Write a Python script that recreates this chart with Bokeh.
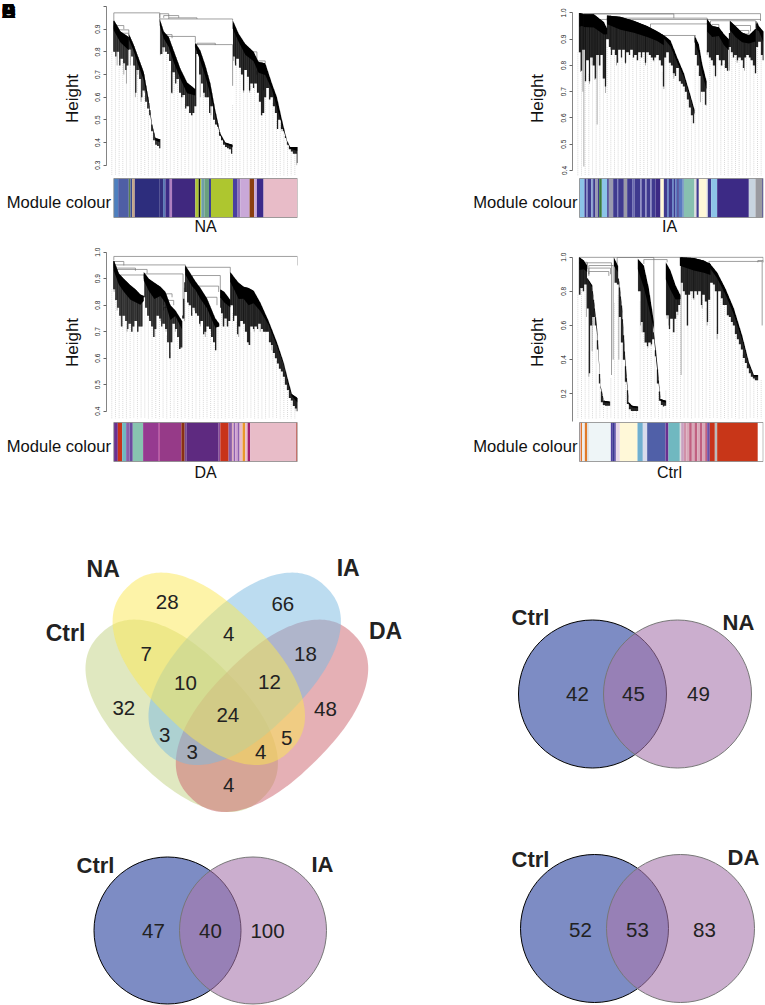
from bokeh.plotting import figure
from bokeh.models import Range1d, LinearAxis, FixedTicker
from bokeh.layouts import column, row
from bokeh.embed import file_html
from bokeh.resources import INLINE
from bokeh.core.properties import value
import numpy as np

FONT = "Liberation Sans"
nan = float("nan")

# ---------------------------- dendrogram data: leaf position, merge height ---------------------------
NA_branch_x = [[340,360,385],[385,400,415,430,445,455,465,478],[478,490,505,520,540,560,585],
               [585,600,615,630,645,660,675,697],[697,715,735,760,775,795,815,830,845,860,870,892]]
NA_branch_top = [[.94,.89,.865],[.88,.83,.77,.71,.585,.48,.42,.415],[.945,.89,.865,.805,.725,.665,.635],
                 [.84,.805,.74,.66,.54,.44,.40,.39],[.94,.88,.835,.80,.755,.75,.66,.60,.50,.41,.38,.38]]
NA_branch_low = [[.81,.75,.70],[.81,.75,.67,.61,.53,.44,.39,.375],[.865,.80,.74,.66,.60,.53,.555],
                 [.785,.675,.60,.525,.48,.41,.38,.36],[.835,.78,.70,.68,.62,.60,.585,.47,.44,.395,.36,.33]]
NA_hair_low = [.80,.78,.80,.74,.77,.75,.72,.74,
               .81,.78,.74,.62,.72,.68,.60,.63,.58,.55,.52,.45,.41,.39,.385,.375,
               .79,.82,.80,.79,.76,.62,.71,.66,.68,.62,.60,.61,.55,.56,.53,.52,.53,.56,
               .79,.70,.66,.62,.60,.60,.53,.56,.50,.48,.47,.43,.41,.39,.38,.375,.37,.35,
               .78,.74,.77,.73,.70,.63,.72,.69,.63,.66,.64,.66,.62,.58,.52,.53,.60,.64,.59,.60,.56,.53,.46,.50,.46,.45,.42,.39,.37,.36,.35,.35,.31]
NA_spike_x = [343,350,358,370,378,390,405,412,422,432,480,490,515,525,548,575,600,612,632,650,700,705,730,748,772,785,810,832,845,890]
NA_spike_low = [.80,.74,.77,.70,.66,.74,.60,.70,.58,.62,.785,.80,.615,.70,.60,.52,.60,.60,.52,.48,.76,.75,.62,.62,.62,.52,.59,.46,.45,.30]
NA_merge_l = [340,478,490,505,478,497,495,585,590,340,355,360,750,775,770]
NA_merge_r = [478,505,535,590,697,585,515,697,645,370,385,385,770,795,790]
NA_merge_h = [.972,.968,.96,.95,.945,.868,.876,.832,.838,.916,.897,.882,.80,.76,.717]
NA_merge_ll = [.94,.95,.95,.945,.93,.86,.87,.82,.83,.90,.88,.87,.79,.75,.70]
NA_merge_lr = [.945,.95,.95,.945,.94,.84,.86,.65,.83,.90,.88,.87,.76,.75,.63]

IA_branch_x = [[417,423,430],[430,460,490,500],[500,540,580,620,650,670],[670,690,710,730,750,762],
               [762,775,785,798],[800,815,835,850,865],[868,885,905,925,945],[948,955,968]]
IA_branch_top = [[1.0,.998,.995],[.995,.995,.965,.94],[.99,.985,.97,.95,.93,.915],[.915,.895,.83,.77,.685,.63],
                 [.915,.88,.805,.74],[.977,.95,.945,.92,.90],[.97,.95,.925,.915,.94],[.97,.95,.93]]
IA_branch_low = [[.85,.86,.86],[.855,.85,.83,.88],[.895,.845,.84,.83,.825,.805],[.88,.83,.78,.73,.655,.58],
                 [.84,.78,.705,.65],[.84,.83,.85,.80,.78],[.87,.83,.82,.825,.80],[.87,.895,.82]]
IA_hair_low = [.85,.78,.86,.74,.82,.74,.83,.80,.75,.84,.80,.84,.75,.72,.90,.87,.84,.86,.84,.81,.86,.83,.86,.81,.85,.84,.86,.83,.84,.82,
               .85,.83,.85,.81,.85,.84,.83,.82,.83,.84,.82,.80,.72,.83,.85,.81,.80,.77,.76,.79,.74,.73,.72,.70,.67,.64,.61,.58,
               .84,.80,.76,.70,.70,.65,.85,.83,.82,.80,.76,.84,.82,.80,.82,.79,.78,.87,.85,.83,.84,.82,.83,.82,.79,.83,.84,.83,.82,.80,.77,.87,.89,.84,.82]
IA_spike_x = [418,420,427,430,435,447,455,463,470,480,488,495,510,528,555,590,615,640,670,700,735,780,797,800,825,845,862,867,890,912,930,945,967]
IA_spike_low = [.85,.775,.70,.415,.74,.73,.80,.745,.575,.80,.75,.695,.86,.80,.805,.82,.80,.815,.71,.75,.70,.66,.647,.84,.755,.80,.78,.78,.81,.78,.82,.77,.82]
IA_merge_l = [417,430,500,480,630,670,810,870,815,900,905]
IA_merge_r = [960,700,800,960,800,765,945,930,835,925,925]
IA_merge_h = [.997,.996,.98,.975,.958,.914,.97,.952,.956,.933,.92]
IA_merge_ll = [.99,.99,.97,.96,.94,.91,.96,.94,.95,.92,.91]
IA_merge_lr = [.97,.98,.975,.97,.96,.91,.94,.93,.94,.92,.91]

DA_branch_x = [[340,355,370,390,405,420,430],[430,445,462,480,495,510,525,545],[555,575,585,600,620,645,657],
               [660,672,690],[690,705,715,730,745,760,780,805,830,850,865,875,892]]
DA_branch_top = [[.97,.92,.90,.875,.86,.84,.835],[.925,.90,.885,.87,.85,.80,.78,.74],[.95,.91,.89,.865,.825,.75,.73],
                 [.86,.85,.82],[.925,.90,.885,.87,.865,.855,.81,.74,.66,.585,.51,.465,.45]]
DA_branch_low = [[.855,.80,.76,.72,.72,.73,.78],[.835,.77,.71,.77,.73,.64,.72,.65],[.85,.80,.80,.75,.72,.65,.70],
                 [.775,.735,.74],[.82,.76,.71,.74,.68,.72,.72,.70,.62,.56,.47,.44,.40]]
DA_hair_low = [.86,.82,.79,.76,.72,.76,.74,.71,.73,.70,.72,.74,.70,.72,.72,.83,.79,.76,.74,.72,.68,.71,.76,.75,.72,.73,.71,.66,.60,.66,.73,.71,.68,.635,.64,
               .75,.85,.81,.80,.76,.79,.77,.76,.73,.74,.69,.70,.72,.71,.68,.66,.63,.72,.79,.77,.72,.75,.72,.74,.80,.74,.76,.69,.72,.74,.73,.70,.66,.65,.72,.71,.72,.71,.73,.71,.70,.70,.70,
               .66,.65,.62,.60,.58,.56,.55,.53,.50,.48,.45,.44,.42,.41,.40]
DA_spike_x = [341,350,362,380,395,412,425,447,463,480,497,510,525,540,552,565,582,600,615,632,646,668,680,700,715,730,745,762,780,800,815,888]
DA_spike_low = [.85,.78,.72,.70,.70,.70,.72,.75,.68,.74,.70,.60,.70,.635,.74,.80,.78,.72,.68,.70,.63,.72,.72,.75,.68,.73,.65,.70,.70,.70,.63,.40]
DA_merge_l = [340,340,340,345,345,555,360,430,575,595,610,470,490,490]
DA_merge_r = [892,370,555,405,440,690,430,548,660,655,650,515,520,510]
DA_merge_h = [.984,.965,.952,.94,.935,.943,.914,.918,.912,.872,.83,.843,.818,.792]
DA_merge_ll = [.97,.95,.94,.93,.92,.93,.90,.91,.90,.86,.82,.83,.80,.78]
DA_merge_lr = [.95,.95,.945,.93,.92,.92,.90,.75,.86,.85,.80,.83,.80,.78]

CT_branch_x = [[417,430,440],[440,455,470,480,490,507],[520,532],[535,545,555,565,575,592],[592,610,625,640],
               [640,650,660,676],[676,690,705,720],[718,760,790,810],[805,830,855,880,905,925,940,952]]
CT_branch_top = [[1.0,.98,.95],[.88,.835,.58,.25,.16,.155],[1.0,.95],[.875,.70,.385,.15,.13,.125],[.99,.95,.815,.62],
                 [.56,.385,.17,.16],[.97,.92,.835,.775],[1.0,.995,.98,.96],[.97,.91,.815,.70,.54,.385,.31,.31]]
CT_branch_low = [[.785,.835,.845],[.86,.80,.46,.21,.135,.13],[.855,.845],[.83,.62,.25,.11,.10,.10],[.815,.58,.50,.50],
                 [.48,.25,.135,.125],[.68,.60,.60,.715],[.855,.785,.775,.775],[.90,.815,.72,.60,.47,.34,.285,.28]]
CT_hair_low = [.78,.82,.80,.84,.70,.32,.60,.65,.60,.46,.26,.15,.135,.13,.13,.13,nan,nan,
               .85,.84,.65,.50,.40,.27,.14,.11,.10,.10,.10,.10,
               .80,.62,.56,.50,.48,.50,.49,.52,.42,.26,.16,.135,.125,.13,
               .66,.58,.64,.56,.64,.68,.72,.85,.80,.78,.60,.78,.80,.76,.80,.78,.80,.72,.78,.74,.62,.75,
               .85,.84,.80,.55,.80,.76,.72,.72,.66,.65,.62,.60,.55,.52,.49,.46,.41,.38,.35,.32,.30,.29,.28,.28,nan,nan,nan]
CT_spike_x = [420,428,438,445,450,455,460,522,535,600,605,612,622,632,680,685,702,712,722,740,760,785,800,830,848]
CT_spike_low = [.78,.80,.65,.30,.66,.45,.60,.85,.40,.60,.56,.50,.47,.48,.64,.60,.56,.66,.31,.60,.75,.70,.60,.52,.72]
CT_merge_l = [417,417,440,445,445,445,530,610,805,952]
CT_merge_r = [968,440,513,518,510,505,640,680,965,968]
CT_merge_h = [.999,.97,.967,.951,.936,.916,.998,.986,.975,.98]
CT_merge_ll = [.99,.96,.93,.90,.90,.89,.95,.96,.96,.97]
CT_merge_lr = [.97,.95,.31,.40,.90,.89,.56,.97,.60,.97]

# ---------------------------- module colour bars -------------------------------------
NA_bar_edges = [340,353,385,390,395,403,478,488,495,508,515,585,595,599,603,612,626,632,698,712,720,748,762,770,790,892]
NA_bar_colors = ["#4d7fbf","#4f5ea5","#5b8050","#3a4a8f","#c4a58a","#2d2d7d","#34307e","#5a78b5","#3c2a85","#b07fc0","#40287f",
                 "#aec536","#101010","#aec536","#6f9fa8","#6aa07f","#3a3f9a","#aec62f","#4a3fa0","#9070b8","#c9a8d8","#8a3f10",
                 "#c9a8d8","#3c2a8a","#e8bcc8"]
IA_bar_edges = [417,432,437,442,452,458,465,472,476,484,500,505,518,530,533,550,560,575,582,600,603,615,618,630,633,645,660,670,680,685,
                695,700,705,710,715,725,730,762,768,775,798,802,812,830,925,945,965,968]
IA_bar_colors = ["#8cc4e8","#3f3a8f","#7b82c0","#3f3a8f","#8aa0d0","#3f3a8f","#9a9ab0","#3f3a8f","#3a7a3a","#8cc4e8","#3f3a8f","#9a9ab0",
                 "#3f3a8f","#7070b8","#3f3a8f","#9a9aa8","#3f3a8f","#6a6ab0","#3f3a8f","#8a8ac8","#3f3a8f","#8a8ac8","#3f3a8f","#8a8ac8",
                 "#3f3a8f","#3c2a85","#fff8d8","#3f3a8f","#5a7ac0","#3f3a8f","#5a7ac0","#3f3a8f","#5a7ac0","#3f3a8f","#5a7ac0","#6a8ac0",
                 "#88c0b0","#dddddd","#3f3a8f","#fff8d8","#dddddd","#3f3a8f","#8cc4e8","#3c2a85","#c8d4e0","#9a9aa0","#3f3a8f"]
DA_bar_edges = [340,352,365,377,387,397,428,475,478,543,553,558,655,660,685,695,700,705,712,718,727,735,742,750,888,892]
DA_bar_colors = ["#6a2f90","#c8331a","#70b8c0","#8a5fa8","#6a4aa0","#88c4b0","#963a90","#b83090","#963a88","#8a3010","#7a4a90","#5e2a80",
                 "#8a4a9a","#c8331a","#8a5fa8","#e0b0c0","#9060b0","#d0a0d0","#9060b0","#e8bcc8","#e8962a","#e8bcc8","#a01f70","#e8bcc8","#b85a50"]
CT_bar_edges = [417,421,425,433,440,445,511,517,521,526,538,591,607,620,675,684,718,722,730,738,746,754,762,770,778,786,794,800,808,823,830,952,968]
CT_bar_colors = ["#e8bcc8","#e07a2a","#eeeeee","#e07a2a","#dddddd","#eef5f7","#5040a0","#3a3a90","#5040a0","#e8d8e8","#fff8d8","#70b0d0",
                 "#d8dcec","#5060a8","#6a2f90","#70b8c0","#dddddd","#c8a0c0","#d090a8","#d8a8b8","#c06080","#d8a8b8","#c06080","#d8a8b8",
                 "#c06080","#d8a8b8","#c06080","#6a50a8","#c8331a","#bbbbbb","#c83618","#ffffff"]

# ---------------------------- venn data ------------------------------------------------
SET_NAMES = ["Ctrl","NA","IA","DA"]
FOUR_COUNTS = [28,66,7,4,18,10,12,32,48,24,3,5,3,4,4]
CTRL_NA = [42,45,49]
CTRL_IA = [47,40,100]
CTRL_DA = [52,53,83]
PANEL_LETTERS = ["A","B","C","D","E"]


def dendro(spec):
    (fw, px_left, px_right, x0, x1, y_off, fh, vref, slope, bar_top, bar_bot, ticks, bound, guide_bot) = spec["layout"]
    xs, tops, lows = spec["x"], spec["top"], spec["low"]
    h_at = lambda py: vref[0] + (vref[1] - py) / slope
    yr = Range1d(h_at(fh + y_off), h_at(y_off))
    p = figure(width=fw, height=fh, x_range=Range1d(x0, x1), y_range=yr, output_backend="svg", toolbar_location=None,
               x_axis_location=None, y_axis_location=None, min_border_left=px_left, min_border_right=px_right,
               min_border_top=0, min_border_bottom=0, outline_line_color=None, background_fill_color="white")
    p.grid.visible = False
    bar_h = 1.0 / (bar_bot - bar_top)
    p.extra_y_ranges["bar"] = Range1d((bar_bot - (fh + y_off)) * bar_h, 1 + (bar_top - y_off) * bar_h)

    ax = LinearAxis(ticker=FixedTicker(ticks=ticks), bounds=bound)
    ax.major_label_overrides = {t: (f"{t:.1f}") for t in ticks}
    if spec.get("hide_top"):
        ax.major_label_overrides[1.0] = ""
    ax.major_label_orientation = "vertical"
    ax.major_label_text_font = FONT
    ax.major_label_text_font_size = "6.5px"
    ax.major_label_text_color = "#222222"
    ax.major_label_standoff = 3
    ax.major_tick_out = 3
    ax.major_tick_in = 0
    ax.minor_tick_line_color = None
    ax.axis_line_color = "#666666"
    ax.major_tick_line_color = "#666666"
    ax.axis_line_width = 0.8
    p.add_layout(ax, "left")

    ax_x = np.concatenate([np.array(a, float) for a in xs])
    ax_t = np.concatenate([np.array(a, float) for a in tops])
    # envelope just beside a leaf, so a hair on a branch boundary stays on the lower branch
    top_at = lambda q: np.minimum(np.interp(q - 1, ax_x, ax_t), np.interp(q + 1, ax_x, ax_t))

    hair = np.array(spec["hair"], float)
    hair_x = spec["edges"][0] + 6.0 * np.arange(len(hair))
    keep = ~np.isnan(hair)
    hair_x, hair = hair_x[keep], hair[keep]

    gx = np.arange(x0 + 16, x1, 11.0)
    gt = np.interp(gx, hair_x, hair)
    p.segment(gx, gt, gx, [h_at(guide_bot)] * len(gx), line_color="#c8c8c8", line_width=0.7, line_dash="1 1")

    ml, mr, mh, mll, mlr = spec["merge"]
    p.segment(ml, mh, mr, mh, line_color="#777777", line_width=0.7)
    p.segment(ml, mh, ml, mll, line_color="#777777", line_width=0.7)
    p.segment(mr, mh, mr, mlr, line_color="#777777", line_width=0.7)

    sx = np.array(spec["spike_x"], float)
    p.segment(sx, top_at(sx), sx, spec["spike_low"], line_color="#444444", line_width=0.7, line_alpha=0.6)

    # hairs only run downward from the tree's upper edge
    ht = top_at(hair_x)
    ok = hair < ht
    p.segment(hair_x[ok], ht[ok], hair_x[ok], hair[ok], line_color="#000000", line_width=1.3, line_alpha=0.85)
    mid_x = hair_x + 3
    mid_low = np.maximum(hair, np.roll(hair, -1))
    mt = top_at(mid_x)
    ok = mid_low < mt
    p.segment(mid_x[ok], mt[ok], mid_x[ok], mid_low[ok], line_color="#000000", line_width=1.1, line_alpha=0.8)

    for a, b, c in zip(xs, tops, lows):
        b_, c_ = np.array(b), np.array(c)
        p.varea(a, b_, b_ * 0.65 + c_ * 0.35, fill_color="#000000", fill_alpha=1.0)

    e = spec["edges"]
    p.quad(left=e[:-1], right=e[1:], bottom=0, top=1, fill_color=spec["colors"], line_color=None, y_range_name="bar")
    p.quad(left=e[0], right=e[-1], bottom=0, top=1, fill_color=None, line_color="#888888", line_width=0.8, y_range_name="bar")
    return p


panel_NA = dict(x=NA_branch_x, top=NA_branch_top, low=NA_branch_low, hair=NA_hair_low, spike_x=NA_spike_x, spike_low=NA_spike_low,
                merge=(NA_merge_l, NA_merge_r, NA_merge_h, NA_merge_ll, NA_merge_lr), edges=NA_bar_edges, colors=NA_bar_colors, hide_top=True,
                layout=(382, 106, 85, 318, 892, 0, 245, (.3, 164.7), 226.7, 178, 217, [.3,.4,.5,.6,.7,.8,.9,1.0], (.3, 1.0), 175))
panel_IA = dict(x=IA_branch_x, top=IA_branch_top, low=IA_branch_low, hair=IA_hair_low, spike_x=IA_spike_x, spike_low=IA_spike_low,
                merge=(IA_merge_l, IA_merge_r, IA_merge_h, IA_merge_ll, IA_merge_lr), edges=IA_bar_edges, colors=IA_bar_colors,
                layout=(383, 190, 2, 396, 969, 0, 245, (.4, 170), 262.7, 178, 217, [.4,.5,.6,.7,.8,.9,1.0], (.4, 1.0), 175))
panel_DA = dict(x=DA_branch_x, top=DA_branch_top, low=DA_branch_low, hair=DA_hair_low, spike_x=DA_spike_x, spike_low=DA_spike_low,
                merge=(DA_merge_l, DA_merge_r, DA_merge_h, DA_merge_ll, DA_merge_lr), edges=DA_bar_edges, colors=DA_bar_colors,
                layout=(382, 106, 85, 318, 892, 245, 245, (.4, 410.7), 265.0, 422, 461, [.4,.5,.6,.7,.8,.9,1.0], (.4, 1.0), 418))
panel_CT = dict(x=CT_branch_x, top=CT_branch_top, low=CT_branch_low, hair=CT_hair_low, spike_x=CT_spike_x, spike_low=CT_spike_low,
                merge=(CT_merge_l, CT_merge_r, CT_merge_h, CT_merge_ll, CT_merge_lr), edges=CT_bar_edges, colors=CT_bar_colors,
                layout=(383, 190, 2, 396, 969, 245, 245, (.2, 393.3), 170.8, 422, 461, [.2,.4,.6,.8,1.0], (.04, 1.0), 418))

figs = [dendro(s) for s in (panel_NA, panel_IA, panel_DA, panel_CT)]

# ---------------------------- overlay: venns and all free texts ---------------------------------------------
PAGE_W, PAGE_H = 765, 1005
v = figure(width=PAGE_W, height=PAGE_H, x_range=Range1d(0, PAGE_W), y_range=Range1d(0, PAGE_H), output_backend="svg",
           toolbar_location=None, x_axis_location=None, y_axis_location=None, min_border=0, outline_line_color=None,
           background_fill_color=None, border_fill_color=None, styles={"position": "absolute", "left": "0px", "top": "0px"})
v.grid.visible = False
Y = lambda py: PAGE_H - py

def put(xs, pys, vals, size, bold=False, color="#222222", align="center", angle=0.0):
    v.text(x=xs, y=[Y(q) for q in pys], text=vals, text_font=value(FONT), text_font_size=size,
           text_font_style="bold" if bold else "normal", text_align=align, text_baseline="middle",
           text_color=color, angle=angle)

# dendrogram panel texts
put([72, 537, 72, 537], [98, 98, 342, 342], ["Height"] * 4, "17px", color="#111111", angle=np.pi / 2)
put([110.5, 577, 110.5, 577], [202, 202, 446, 446], ["Module colour"] * 4, "16.6px", color="#111111", align="right")
put([205, 669, 205, 669], [226, 226, 471.5, 471.5], ["NA", "IA", "DA", "Ctrl"], "16px", color="#111111")
put([1] * 5, [10] * 5, PANEL_LETTERS, "20px", bold=True, color="#000000", align="left")

# four-set rounded lobes: a superellipse turned by 45 degrees
def lobe(cx, cy, sign, a=114.0, b=62.0, n=2.3, half_box=96.2):
    t = np.linspace(0, 2 * np.pi, 181)
    u = a * np.sign(np.cos(t)) * np.abs(np.cos(t)) ** (2 / n)
    w = b * np.sign(np.sin(t)) * np.abs(np.sin(t)) ** (2 / n)
    dx = (u + sign * w) / np.sqrt(2)
    dy = (sign * u - w) / np.sqrt(2)
    k = half_box / dx.max()
    return cx + k * dx, cy + k * dy

ell_x = [181.2, 271.5, 244.2, 208.3]
ell_y = [715.3, 715.3, 668.3, 668.3]
ell_sign = [1, -1, -1, 1]
ell_col = ["#c1d181", "#cb616b", "#79b9e1", "#fbe751"]
for x_, y_, s_, c_ in zip(ell_x, ell_y, ell_sign, ell_col):
    lx, ly = lobe(x_, y_, s_)
    v.patch(lx, [Y(q) for q in ly], fill_color=c_, fill_alpha=0.5, line_color=None)

four_x = [166.7,282.3,145.7,228.3,305,185,269,123.3,325,227.3,164.3,286.3,191.7,260.3,228.3]
four_py = [601.7,603.3,653.3,633.3,653.3,682.7,681.7,707.3,708.3,714,734,737.3,751.7,751.7,784.3]
put(four_x, four_py, [str(n) for n in FOUR_COUNTS], "20.5px")
put([65, 102.7, 347.7, 385], [632.7, 568, 567.7, 630], SET_NAMES, "23px", bold=True)

def pair(cx1, cx2, cy, r, counts, num_x, num_y, lab_xy, other):
    v.circle(x=[cx1], y=[Y(cy)], radius=r, fill_color="#3f55a8", fill_alpha=0.68, line_color="#000000", line_width=1)
    v.circle(x=[cx2], y=[Y(cy)], radius=r, fill_color="#a878ae", fill_alpha=0.6, line_color="#777777", line_width=1)
    put(num_x, [num_y] * 3, [str(n) for n in counts], "20.5px")
    put([lab_xy[0], lab_xy[2]], [lab_xy[1], lab_xy[3]], ["Ctrl", other], "22px", bold=True)

pair(592, 677, 693.5, 74, CTRL_NA, [577, 633, 698], 693, (530, 617, 738, 622), "NA")
pair(167, 252.5, 930, 73.5, CTRL_IA, [153, 210, 267], 930, (95, 865, 322, 864), "IA")
pair(594, 680, 928, 74, CTRL_DA, [580, 637, 704], 929, (530, 859, 743, 857), "DA")

trees = column(row(figs[0], figs[1], spacing=0), row(figs[2], figs[3], spacing=0), spacing=0,
               styles={"position": "absolute", "left": "0px", "top": "0px"})
open("out.html", "w").write(file_html([trees, v], INLINE))
